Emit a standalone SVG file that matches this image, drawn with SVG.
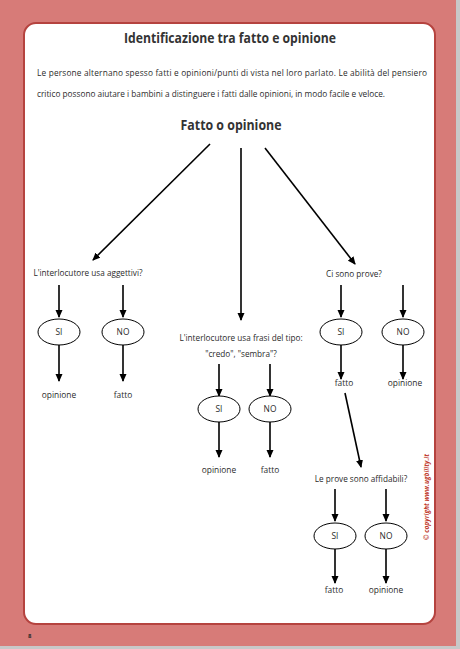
<svg xmlns="http://www.w3.org/2000/svg" width="460" height="649" viewBox="0 0 460 649">
<style>
text{font-family:"Open Sans","Liberation Sans",sans-serif;fill:#2b2b2b}
.h{font-weight:bold;font-size:13.5px;text-anchor:middle;fill:#333}
.p{font-size:8.3px}
.q{font-size:8.2px;text-anchor:middle}
.l{font-size:8.4px;text-anchor:middle}
.c{stroke:#000;stroke-width:1.6;fill:none}
.e{fill:#fff;stroke:#000;stroke-width:1}
.cp{font-size:6.5px;font-weight:bold;font-style:italic;fill:#c0392b}
</style>
<defs>
<marker id="a" markerWidth="8" markerHeight="8" refX="7" refY="4" orient="auto" markerUnits="userSpaceOnUse">
<path d="M0,0.5 L8,4 L0,7.5 Z" fill="#000"/>
</marker>
</defs>
<rect x="0" y="0" width="460" height="649" fill="#d77b78"/>
<rect x="456" y="0" width="4" height="649" fill="#c8c8c8"/>
<rect x="0" y="646" width="460" height="3" fill="#c8c8c8"/>
<rect x="24" y="23" width="411" height="601" rx="12" fill="#fff" stroke="#b5433f" stroke-width="2"/>
<text class="h" x="230" y="43" textLength="212" lengthAdjust="spacingAndGlyphs">Identificazione tra fatto e opinione</text>
<text class="p" x="37" y="76" textLength="390" lengthAdjust="spacing">Le persone alternano spesso fatti e opinioni/punti di vista nel loro parlato. Le abilità del pensiero</text>
<text class="p" x="37" y="97" textLength="348" lengthAdjust="spacingAndGlyphs">critico possono aiutare i bambini a distinguere i fatti dalle opinioni, in modo facile e veloce.</text>
<text class="h" x="231" y="130" textLength="101" lengthAdjust="spacingAndGlyphs">Fatto o opinione</text>
<g id="connectors">
<line class="c" x1="210" y1="144" x2="93" y2="260" marker-end="url(#a)"/>
<line class="c" x1="241" y1="148" x2="241" y2="320" marker-end="url(#a)"/>
<line class="c" x1="265" y1="148" x2="355" y2="264" marker-end="url(#a)"/>
<line class="c" x1="59" y1="285" x2="59" y2="317" marker-end="url(#a)"/>
<line class="c" x1="123" y1="285" x2="123" y2="317" marker-end="url(#a)"/>
<line class="c" x1="59" y1="345" x2="59" y2="381" marker-end="url(#a)"/>
<line class="c" x1="123" y1="345" x2="123" y2="381" marker-end="url(#a)"/>
<line class="c" x1="219" y1="364" x2="219" y2="396" marker-end="url(#a)"/>
<line class="c" x1="270" y1="364" x2="270" y2="396" marker-end="url(#a)"/>
<line class="c" x1="219" y1="422" x2="219" y2="457" marker-end="url(#a)"/>
<line class="c" x1="270" y1="422" x2="270" y2="457" marker-end="url(#a)"/>
<line class="c" x1="341" y1="285" x2="341" y2="317" marker-end="url(#a)"/>
<line class="c" x1="403" y1="285" x2="403" y2="317" marker-end="url(#a)"/>
<line class="c" x1="341" y1="345" x2="341" y2="379" marker-end="url(#a)"/>
<line class="c" x1="403" y1="345" x2="403" y2="379" marker-end="url(#a)"/>
<line class="c" x1="345" y1="393" x2="361" y2="467" marker-end="url(#a)"/>
<line class="c" x1="335" y1="489" x2="335" y2="521" marker-end="url(#a)"/>
<line class="c" x1="386" y1="489" x2="386" y2="521" marker-end="url(#a)"/>
<line class="c" x1="335" y1="549" x2="335" y2="583" marker-end="url(#a)"/>
<line class="c" x1="386" y1="549" x2="386" y2="583" marker-end="url(#a)"/>
</g>
<g id="q1"><text class="q" x="88" y="276">L'interlocutore usa aggettivi?</text></g>
<g id="q1-si"><ellipse class="e" cx="59" cy="332" rx="21" ry="13"/><text class="l" x="59" y="335">SI</text></g>
<g id="q1-no"><ellipse class="e" cx="123" cy="332" rx="21" ry="13"/><text class="l" x="123" y="335">NO</text></g>
<g id="q1-r1"><text class="l" x="59" y="398">opinione</text></g>
<g id="q1-r2"><text class="l" x="123" y="398">fatto</text></g>
<g id="q2"><text class="q" x="241" y="341">L'interlocutore usa frasi del tipo:</text><text class="q" x="241" y="357">"credo", "sembra"?</text></g>
<g id="q2-si"><ellipse class="e" cx="219" cy="409" rx="21" ry="13"/><text class="l" x="219" y="412">SI</text></g>
<g id="q2-no"><ellipse class="e" cx="270" cy="409" rx="21" ry="13"/><text class="l" x="270" y="412">NO</text></g>
<g id="q2-r1"><text class="l" x="219" y="473">opinione</text></g>
<g id="q2-r2"><text class="l" x="270" y="473">fatto</text></g>
<g id="q3"><text class="q" x="354" y="277">Ci sono prove?</text></g>
<g id="q3-si"><ellipse class="e" cx="341" cy="332" rx="21" ry="13"/><text class="l" x="341" y="335">SI</text></g>
<g id="q3-no"><ellipse class="e" cx="403" cy="332" rx="21" ry="13"/><text class="l" x="403" y="335">NO</text></g>
<g id="q3-r1"><text class="l" x="344" y="386">fatto</text></g>
<g id="q3-r2"><text class="l" x="405" y="386">opinione</text></g>
<g id="q4"><text class="q" x="361" y="482">Le prove sono affidabili?</text></g>
<g id="q4-si"><ellipse class="e" cx="335" cy="536" rx="21" ry="13"/><text class="l" x="335" y="539">SI</text></g>
<g id="q4-no"><ellipse class="e" cx="386" cy="536" rx="21" ry="13"/><text class="l" x="386" y="539">NO</text></g>
<g id="q4-r1"><text class="l" x="334" y="593">fatto</text></g>
<g id="q4-r2"><text class="l" x="386" y="593">opinione</text></g>
<text class="cp" transform="translate(429,540) rotate(-90)" textLength="86" lengthAdjust="spacingAndGlyphs">© copyright www.ugbility.it</text>
<text x="28" y="638" style="font-size:6px;font-weight:bold">8</text>
</svg>
